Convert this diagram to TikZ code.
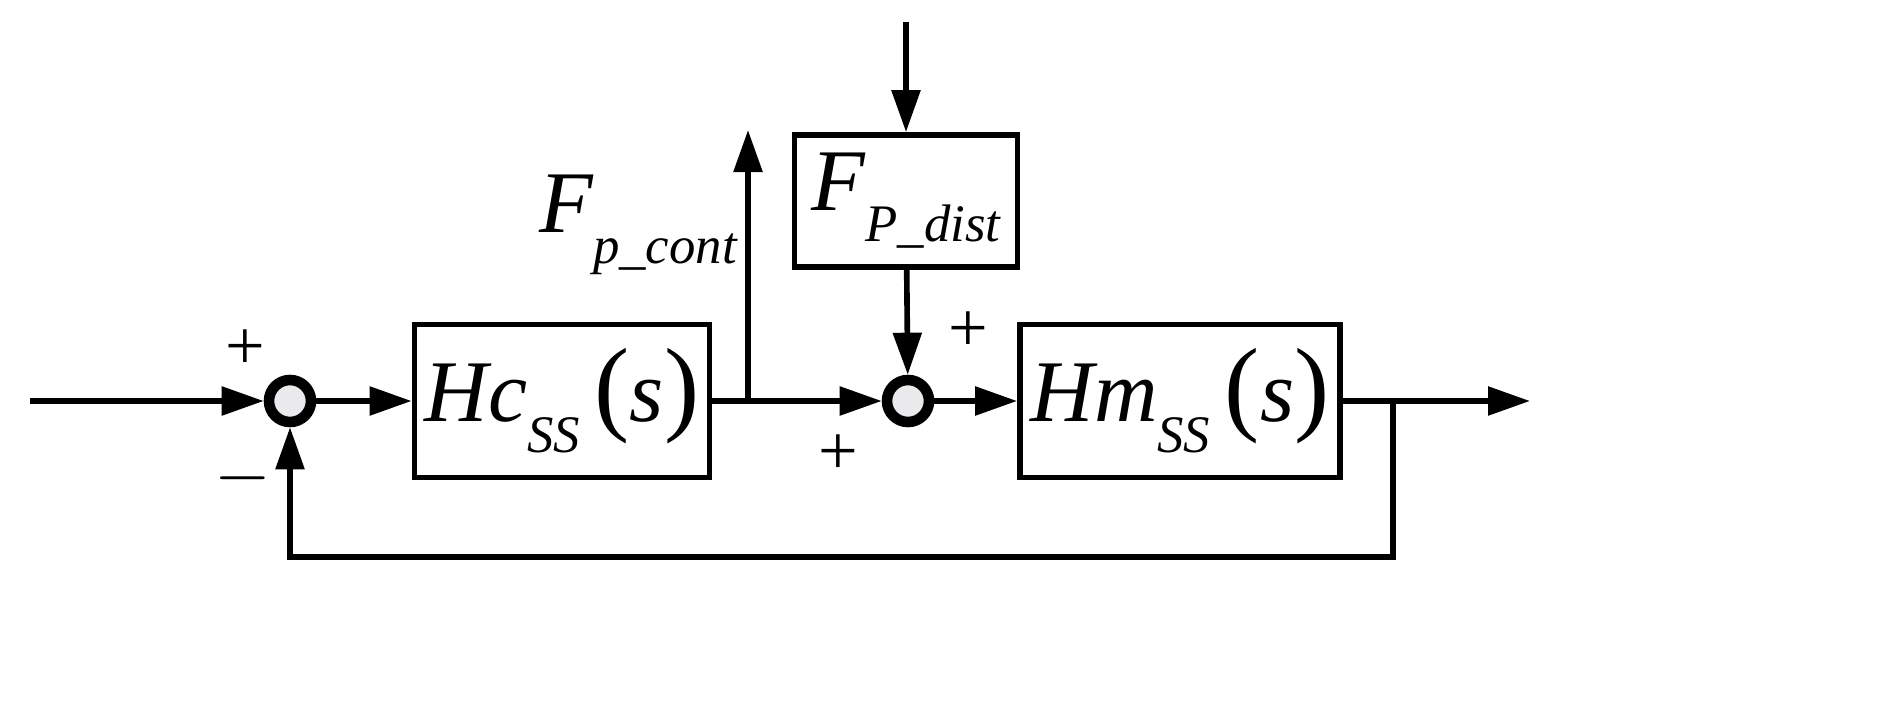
\documentclass[tikz,border=0pt]{standalone}
\usepackage{fontspec}
\setmainfont{Liberation Serif}
\usetikzlibrary{arrows.meta}
\newcommand{\sbt}[1]{\raisebox{-0.35em}{\fontsize{15}{18}\selectfont\itshape #1}}
\begin{document}
\begin{tikzpicture}[x=0.01cm,y=-0.01cm,
  line width=1.6pt,
  arr/.style={-{Triangle[length=0.42cm,width=0.28cm]}},
  blk/.style={draw,line width=1.6pt,inner sep=0pt},
  sum/.style={draw,circle,line width=3pt,fill=blue!8!gray!15,minimum size=0.42cm,inner sep=0pt},
  lbl/.style={font=\fontsize{25}{30}\selectfont\itshape},
  sg/.style={font=\fontsize{20}{24}\selectfont}]
\node[sum] (s1) at (290,401) {};
\node[sum] (s2) at (908,401) {};
\node[blk,minimum width=2.95cm,minimum height=1.53cm,lbl] (hc) at (562,401) {Hc\sbt{SS}\,{\upshape\fontsize{30}{30}\selectfont(}s{\upshape\fontsize{30}{30}\selectfont)}};
\node[blk,minimum width=3.2cm,minimum height=1.53cm,lbl] (hm) at (1180,401) {Hm\sbt{SS}\,{\upshape\fontsize{30}{30}\selectfont(}s{\upshape\fontsize{30}{30}\selectfont)}};
\node[blk,minimum width=2.23cm,minimum height=1.32cm,lbl] (fd) at (906,201) {F\sbt{P\_dist}};
\coordinate (in) at (30,401);
\coordinate (out) at (1530,401);
\coordinate (b1) at (748,401);
\coordinate (up) at (748,130);
\coordinate (top) at (906,22);
\coordinate (b2) at (1393,401);
\coordinate (fb1) at (1393,557);
\coordinate (fb2) at (290,557);
\draw[arr] (in) -- (s1);
\draw[arr] (s1) -- (hc);
\draw (hc) -- (b1);
\draw[arr] (b1) -- (up);
\draw[arr] (b1) -- (s2);
\draw[arr] (s2) -- (hm);
\draw[arr] (hm) -- (out);
\draw[arr] (top) -- (fd);
\draw[arr] (fd) -- (s2);
\draw[arr] (b2) -- (fb1) -- (fb2) -- (s1);
\node[lbl,anchor=west] (fc) at (525,225) {F\sbt{p\_cont}};
\node[sg] (p1) at (245,350) {+};
\node[sg] (m1) at (243,478) {$-$};
\node[sg] (p2) at (968,332) {+};
\node[sg] (p3) at (838,455) {+};
\pgfresetboundingbox
\useasboundingbox (0,0) rectangle (1898,722);
\end{tikzpicture}
\end{document}
